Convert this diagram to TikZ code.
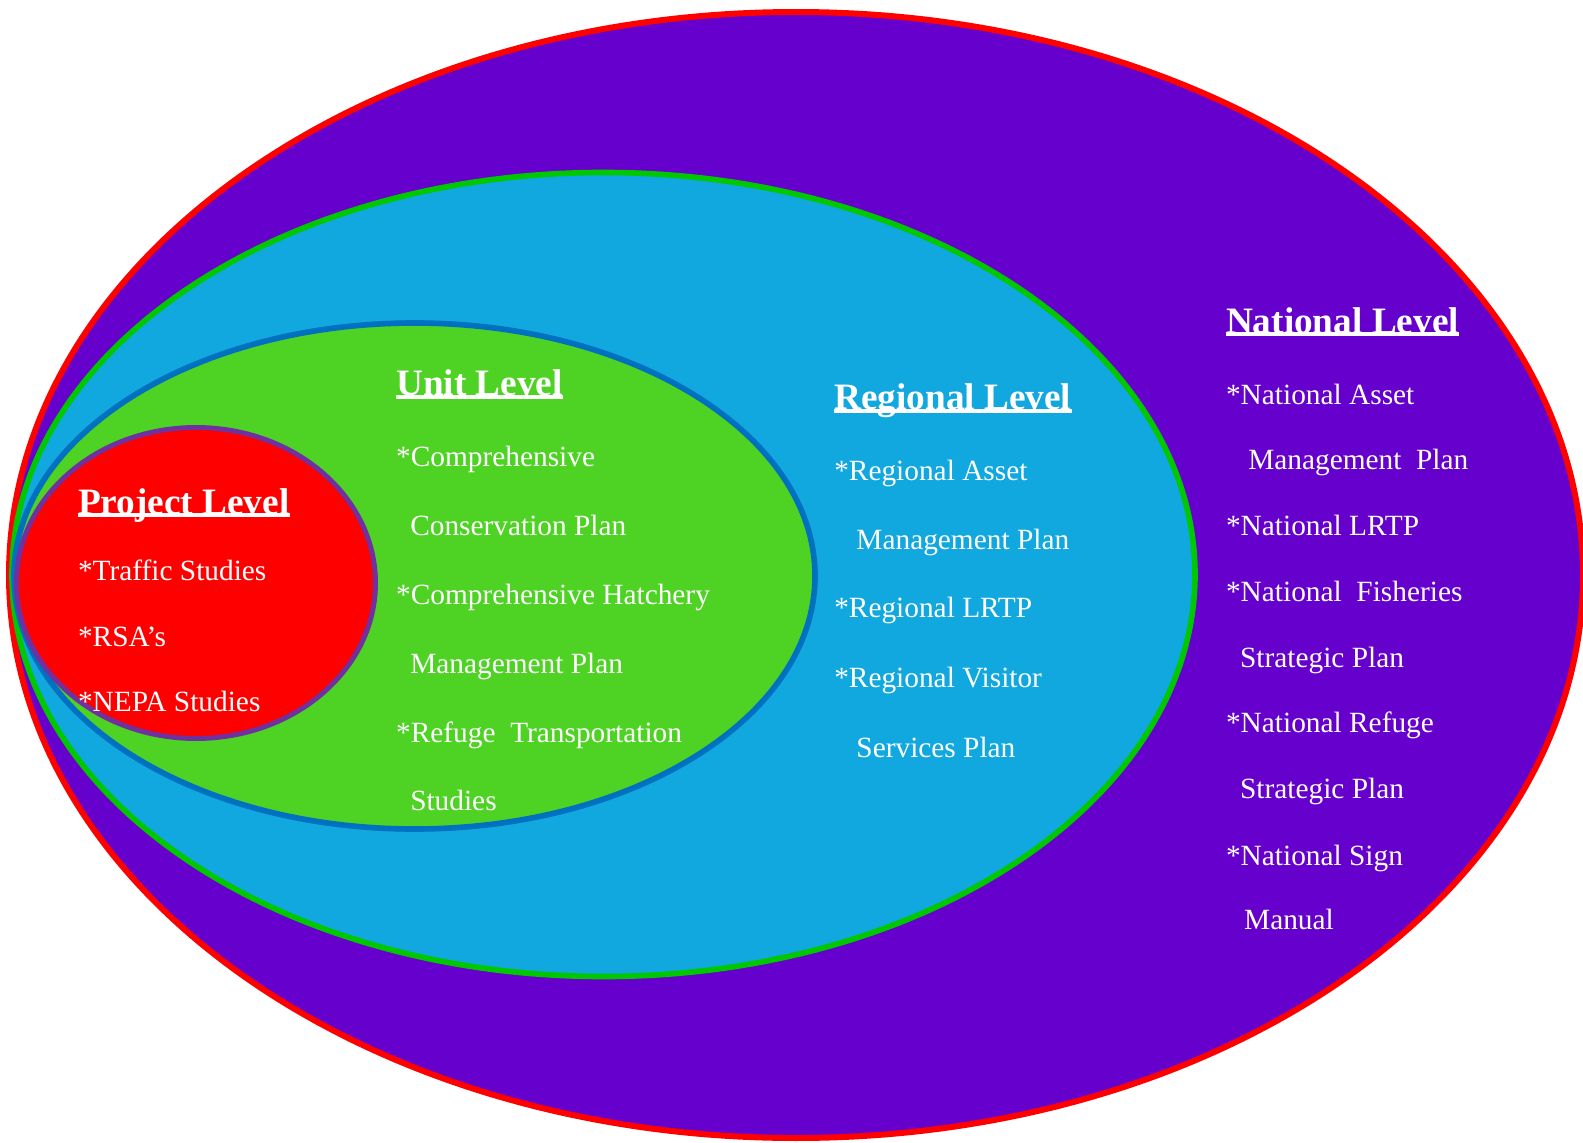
\documentclass[tikz,border=0pt]{standalone}
\usepackage{fontspec}
\setmainfont{Liberation Serif}
\definecolor{natpurple}{RGB}{102,0,204}
\definecolor{regblue}{RGB}{17,168,223}
\definecolor{unitgreen}{RGB}{78,210,36}
\definecolor{edgegreen}{RGB}{0,200,0}
\definecolor{edgeblue}{RGB}{0,112,192}
\definecolor{edgepurple}{RGB}{112,48,160}
\begin{document}
\begin{tikzpicture}[scale=0.2]
    \tikzstyle{every node}+=[inner sep=0pt, text=white, anchor=base west]
    \tikzstyle{level}=[font=\fontsize{21.2}{25}\selectfont\bfseries]
    \tikzstyle{item}=[font=\fontsize{16.7}{20}\selectfont]
    \tikzstyle{uline}=[white, line width=2.2pt]
    \useasboundingbox (0,0) rectangle (158.3,-114.2);
    % nested levels
    \draw [red, line width=3.4pt, fill=natpurple] (79.6,-57.5) ellipse (78.7 and 56.3);
    \draw [edgegreen, line width=3.2pt, fill=regblue] (60.35,-57.45) ellipse (59.15 and 40.2);
    \draw [edgeblue, line width=3.2pt, fill=unitgreen] (41.45,-57.6) ellipse (40.05 and 25.3);
    \draw [edgepurple, line width=2.8pt, fill=red] (19.6,-58.3) ellipse (17.95 and 15.55);
    % project level
    \node [level] (hproject) at (7.77,-51.4) {Project Level};
    \node [item] (p1) at (7.77,-58.04) {*Traffic Studies};
    \node [item] (p2) at (7.77,-64.6) {*RSA’s};
    \node [item] (p3) at (7.77,-71.17) {*NEPA Studies};
    % unit level
    \node [level] (hunit) at (39.58,-39.56) {Unit Level};
    \node [item] (u1) at (39.58,-46.63) {*Comprehensive};
    \node [item] (u2) at (40.99,-53.5) {Conservation Plan};
    \node [item] (u3) at (39.58,-60.47) {*Comprehensive Hatchery};
    \node [item] (u4) at (40.99,-67.33) {Management Plan};
    \node [item] (u5) at (39.58,-74.2) {*Refuge \ Transportation};
    \node [item] (u6) at (40.99,-81.06) {Studies};
    % regional level
    \node [level] (hregional) at (83.39,-40.98) {Regional Level};
    \node [item] (r1) at (83.39,-48.05) {*Regional Asset};
    \node [item] (r2) at (85.61,-54.91) {Management Plan};
    \node [item] (r3) at (83.39,-61.78) {*Regional LRTP};
    \node [item] (r4) at (83.39,-68.74) {*Regional Visitor};
    \node [item] (r5) at (85.61,-75.71) {Services Plan};
    % national level
    \node [level] (hnational) at (122.57,-33.3) {National Level};
    \node [item] (n1) at (122.57,-40.48) {*National Asset};
    \node [item] (n2) at (124.79,-46.94) {Management \ Plan};
    \node [item] (n3) at (122.57,-53.5) {*National LRTP};
    \node [item] (n4) at (122.57,-60.16) {*National \ Fisheries};
    \node [item] (n5) at (123.98,-66.72) {Strategic Plan};
    \node [item] (n6) at (122.57,-73.29) {*National Refuge};
    \node [item] (n7) at (123.98,-79.85) {Strategic Plan};
    \node [item] (n8) at (122.57,-86.51) {*National Sign};
    \node [item] (n9) at (124.38,-92.97) {Manual};
    % underlines
    \draw [uline] ([yshift=-3.5pt]hproject.base west) -- ([yshift=-3.5pt]hproject.base east);
    \draw [uline] ([yshift=-3.5pt]hunit.base west) -- ([yshift=-3.5pt]hunit.base east);
    \draw [uline] ([yshift=-3.5pt]hregional.base west) -- ([yshift=-3.5pt]hregional.base east);
    \draw [uline] ([yshift=-3.5pt]hnational.base west) -- ([yshift=-3.5pt]hnational.base east);
\end{tikzpicture}
\end{document}
